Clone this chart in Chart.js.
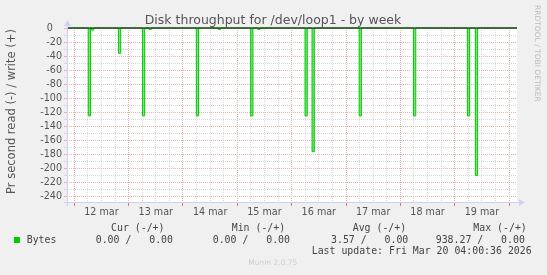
<!DOCTYPE html>
<html>
<head>
<meta charset="utf-8">
<script src="https://cdn.jsdelivr.net/npm/chart.js@4/dist/chart.umd.min.js"></script>
<style>
  html, body { margin: 0; background: #f0f0f0; }
  canvas { display: block; }
</style>
</head>
<body>
<canvas id="diskChart" width="547" height="275"></canvas>
<script>
// time axis: hours since 12 mar 00:00
const dayLabels = ['12 mar', '13 mar', '14 mar', '15 mar', '16 mar', '17 mar', '18 mar', '19 mar'];
const xMin = -3.2;
const xMax = 195.5;
const yMin = -249;
const yMax = 0;
const yTickValues = [0, -10, -20, -30, -40, -50, -60, -70, -80, -90, -100, -110, -120,
  -130, -140, -150, -160, -170, -180, -190, -200, -210, -220, -230, -240];

// read (-) samples that are not zero: start hour and bytes/s
const readStart = [6.2, 7.6, 19.5, 30.1, 33.0, 53.9, 63.6, 77.9, 81.0, 101.9, 105.0, 125.8, 149.8, 173.6, 177.1];
const readValue = [-125, -3, -36, -125, -2, -125, -2, -125, -2, -125, -176, -125, -125, -125, -210];
// write (+) stays at zero
const writeHours = [xMin, xMax];
const writeValue = [0, 0];

const legendHeads = ['Cur (-/+)', 'Min (-/+)', 'Avg (-/+)', 'Max (-/+)'];
const legendValues = ['0.00 /   0.00', '0.00 /   0.00', '3.57 /   0.00', '938.27 /   0.00'];
const lastUpdate = 'Last update: Fri Mar 20 04:00:36 2026';

const sampleWidth = 1.0;
const readPoints = [{ x: xMin, y: 0 }];
readStart.forEach((s, i) => {
    readPoints.push({ x: s, y: readValue[i] });
    readPoints.push({ x: s + sampleWidth, y: 0 });
});
readPoints.push({ x: xMax, y: 0 });
const writePoints = writeHours.map((h, i) => ({ x: h, y: writeValue[i] }));

const PINK = '#eab0b0';
const GRAY = '#d8d8d8';
const AXIS = '#cfcff4';

const munin = {
    id: 'munin',
    beforeDraw(chart) {
        const { ctx, chartArea: a } = chart;
        ctx.save();
        ctx.fillStyle = '#ffffff';
        ctx.fillRect(a.left, a.top, a.right - a.left, a.bottom - a.top);
        ctx.restore();
    },
    afterDraw(chart) {
        const { ctx, chartArea: a } = chart;
        ctx.save();
        // axes with arrows
        ctx.strokeStyle = AXIS;
        ctx.fillStyle = AXIS;
        ctx.lineWidth = 1;
        ctx.beginPath();
        ctx.moveTo(a.left + 0.5, 24);
        ctx.lineTo(a.left + 0.5, a.bottom + 3);
        ctx.moveTo(a.left - 3, a.bottom - 0.5);
        ctx.lineTo(a.right + 3, a.bottom - 0.5);
        ctx.stroke();
        ctx.beginPath();
        ctx.moveTo(a.left - 3, 26);
        ctx.lineTo(a.left + 4, 26);
        ctx.lineTo(a.left + 0.5, 20);
        ctx.fill();
        ctx.beginPath();
        ctx.moveTo(a.right + 2, a.bottom - 4);
        ctx.lineTo(a.right + 2, a.bottom + 3);
        ctx.lineTo(a.right + 8, a.bottom - 0.5);
        ctx.fill();

        // titles
        ctx.fillStyle = '#555';
        ctx.font = '12.5px "DejaVu Sans"';
        ctx.textAlign = 'center';
        ctx.textBaseline = 'alphabetic';
        ctx.fillText('Disk throughput for /dev/loop1 - by week', 273, 24);

        ctx.save();
        ctx.translate(15, 111.5);
        ctx.rotate(-Math.PI / 2);
        ctx.font = '11.5px "DejaVu Sans"';
        ctx.fillText('Pr second read (-) / write (+)', 0, 0);
        ctx.restore();

        ctx.save();
        ctx.translate(534.5, 5);
        ctx.rotate(Math.PI / 2);
        ctx.fillStyle = '#bbbbbb';
        ctx.font = '7.5px "DejaVu Sans"';
        ctx.textAlign = 'left';
        ctx.fillText('RRDTOOL / TOBI OETIKER', 0, 0);
        ctx.restore();

        // legend
        ctx.font = '9.9px "DejaVu Sans Mono"';
        ctx.textAlign = 'left';
        ctx.textBaseline = 'middle';
        ctx.fillStyle = '#444';
        const headX = [111, 231.7, 352.7, 473.3];
        const valX = [95.7, 212.7, 331, 435.7];
        legendHeads.forEach((t, i) => ctx.fillText(t, headX[i], 228));
        legendValues.forEach((t, i) => ctx.fillText(t, valX[i], 240));
        ctx.fillText('Bytes', 26.7, 240);
        ctx.fillText(lastUpdate, 311.7, 251.5);
        ctx.fillStyle = '#00cc00';
        ctx.fillRect(14, 237, 6, 6);

        ctx.fillStyle = '#cccccc';
        ctx.font = '7.5px "DejaVu Sans"';
        ctx.fillText('Munin 2.0.75', 248.3, 263.5);
        ctx.restore();
    }
};

new Chart(document.getElementById('diskChart').getContext('2d'), {
    type: 'line',
    data: {
        datasets: [
            {
                label: 'write',
                data: writePoints,
                borderColor: '#000000',
                borderWidth: 1,
                pointRadius: 0,
                fill: false,
                clip: 2
            },
            {
                label: 'Bytes',
                data: readPoints,
                borderColor: '#00cc00',
                backgroundColor: 'rgba(70, 215, 70, 0.7)',
                borderWidth: 1,
                pointRadius: 0,
                stepped: 'before',
                fill: 'origin',
                clip: 2
            }
        ]
    },
    options: {
        responsive: false,
        animation: false,
        devicePixelRatio: 1,
        layout: { padding: { left: 0, right: 30, top: 28, bottom: 0 } },
        plugins: {
            legend: { display: false },
            tooltip: { enabled: false }
        },
        scales: {
            x: {
                type: 'linear',
                min: xMin,
                max: xMax,
                afterBuildTicks: (axis) => {
                    const ticks = [];
                    for (let h = 0; h <= 192; h += 6) ticks.push({ value: h });
                    axis.ticks = ticks;
                },
                afterFit: (axis) => { axis.height = 72; },
                ticks: {
                    autoSkip: false,
                    maxRotation: 0,
                    padding: 1,
                    color: '#555',
                    font: { family: 'DejaVu Sans', size: 9.6 },
                    callback: (v) => (v % 24 === 12 ? dayLabels[Math.floor(v / 24)] : '')
                },
                grid: {
                    color: (c) => (c.tick && c.tick.value % 24 === 0 ? PINK : GRAY),
                    tickColor: (c) => (c.tick && c.tick.value % 24 === 0 ? '#e07070' : 'rgba(0,0,0,0)'),
                    tickLength: 3,
                    borderDash: [1, 1]
                },
                border: { display: false, dash: [1, 1] }
            },
            y: {
                min: yMin,
                max: yMax,
                afterBuildTicks: (axis) => { axis.ticks = yTickValues.map(v => ({ value: v })); },
                afterFit: (axis) => { axis.width = 67; },
                ticks: {
                    autoSkip: false,
                    padding: 2,
                    color: '#555',
                    font: { family: 'DejaVu Sans', size: 9.6 },
                    callback: (v) => (v % 20 === 0 ? (v === 0 ? '0   ' : String(v)) : '')
                },
                grid: {
                    color: (c) => (c.tick && c.tick.value % 20 === 0 ? PINK : GRAY),
                    tickLength: 3,
                    borderDash: [1, 1]
                },
                border: { display: false, dash: [1, 1] }
            }
        }
    },
    plugins: [munin]
});
</script>
</body>
</html>
